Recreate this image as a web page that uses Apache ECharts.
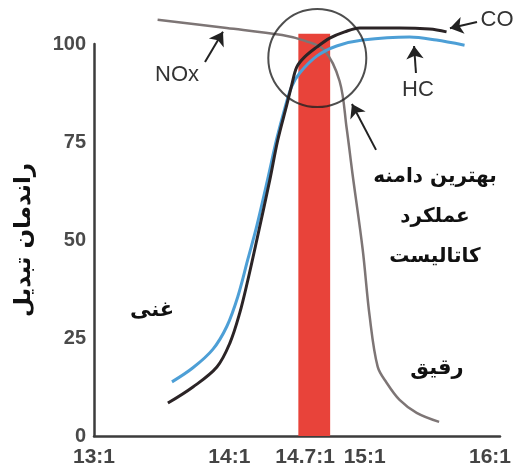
<!DOCTYPE html>
<html>
<head>
<meta charset="utf-8">
<script src="https://cdn.jsdelivr.net/npm/echarts@6/dist/echarts.min.js"></script>
<style>
  html, body { margin: 0; padding: 0; background: #fff; }
  #chart { width: 529px; height: 473px; }
</style>
</head>
<body>
<div id="chart"></div>
<script>
// x ticks (air/fuel ratio) and their labels
const xTicks = [13, 14, 14.7, 15, 16];
const xTickLabels = ['13:1', '14:1', '14.7:1', '15:1', '16:1'];

// conversion efficiency curves [ratio, %]
const noxData = [[13.47, 106.2], [13.98, 104.1], [14.39, 102.3], [14.56, 100.8], [14.7, 98.5],
  [14.815, 90.5], [14.867, 78.5], [14.91, 66.9], [14.985, 47.7], [15.037, 30.5], [15.096, 17.7],
  [15.162, 13.6], [15.258, 9.2], [15.384, 5.9], [15.55, 3.6]];
const coData = [[13.546, 8.4], [13.731, 12.5], [13.908, 17.6], [14.004, 23.7], [14.077, 31.4],
  [14.137, 39.8], [14.203, 50.0], [14.299, 65.3], [14.358, 75.5], [14.424, 84.4], [14.461, 89.5],
  [14.498, 94.1], [14.557, 96.7], [14.646, 99.2], [14.742, 101.5], [14.852, 103.1], [14.963, 104.1],
  [15.258, 104.1], [15.48, 103.8], [15.605, 103.1]];
const hcData = [[13.576, 13.8], [13.731, 17.4], [13.878, 22.1], [13.982, 28.0], [14.063, 35.6],
  [14.137, 45.1], [14.203, 53.6], [14.284, 65.6], [14.351, 75.9], [14.41, 83.6], [14.461, 89.2],
  [14.52, 92.6], [14.646, 96.9], [14.793, 99.5], [14.985, 101.0], [15.332, 101.8], [15.531, 101.0],
  [15.738, 99.7]];

// best catalyst window
const bestRange = [14.51, 14.745];
const bestTop = 102.6;
const circleCenter = [14.65, 96.4];

// arrows [from, to]
const arrows = [
  [[15.83, 105.6], [15.63, 104.0]],
  [[13.82, 95.4], [13.953, 103.1]],
  [[15.379, 92.6], [15.365, 99.5]],
  [[15.084, 73.0], [14.906, 84.7]]
];

const latin = 'Liberation Sans, Arial, sans-serif';
const farsi = 'DejaVu Sans, Noto Sans, sans-serif';

var chart = echarts.init(document.getElementById('chart'));

var option = {
  animation: false,
  backgroundColor: '#fff',
  grid: { left: 94, right: 29, top: 44, bottom: 37 },
  xAxis: {
    type: 'value',
    min: 13,
    max: 16,
    splitLine: { show: false },
    axisTick: { show: false },
    axisLine: { lineStyle: { color: '#3c3c3c', width: 2.5 } },
    axisLabel: {
      customValues: xTicks,
      margin: 11,
      color: '#444',
      fontSize: 21,
      fontWeight: 'bold',
      fontFamily: latin,
      formatter: function (v) {
        var i = xTicks.indexOf(v);
        var t = i >= 0 ? xTickLabels[i] : '';
        if (v === 14.7) return '{a|' + t + '}';
        if (v === 16) return '{b|' + t + '}';
        return t;
      },
      rich: {
        a: { padding: [0, 38, 0, 0], fontSize: 21, fontWeight: 'bold', fontFamily: latin, color: '#444' },
        b: { padding: [0, 20, 0, 0], fontSize: 21, fontWeight: 'bold', fontFamily: latin, color: '#444' }
      }
    }
  },
  yAxis: {
    type: 'value',
    min: 0,
    max: 100,
    interval: 25,
    name: 'راندمان تبدیل',
    nameLocation: 'middle',
    nameGap: 58,
    nameTextStyle: { fontFamily: farsi, fontWeight: 'bold', fontSize: 23, color: '#111' },
    splitLine: { show: false },
    axisTick: { show: false },
    axisLine: { show: true, lineStyle: { color: '#3c3c3c', width: 2.5 } },
    axisLabel: { margin: 8, color: '#4a4a4a', fontSize: 20, fontWeight: 'bold', fontFamily: latin }
  },
  series: [
    {
      type: 'custom',
      name: 'best',
      clip: false,
      z: 1,
      data: [[bestRange[0], 0]],
      renderItem: function (params, api) {
        var p0 = api.coord([bestRange[0], 0]);
        var p1 = api.coord([bestRange[1], bestTop]);
        return {
          type: 'rect',
          shape: { x: p0[0], y: p1[1], width: p1[0] - p0[0], height: p0[1] - p1[1] },
          style: { fill: '#e8433a' }
        };
      }
    },
    {
      type: 'line', name: 'NOx', data: noxData, smooth: 0.35, showSymbol: false, clip: false, z: 3,
      lineStyle: { color: '#7d7575', width: 2.5 }
    },
    {
      type: 'line', name: 'HC', data: hcData, smooth: 0.35, showSymbol: false, clip: false, z: 4,
      lineStyle: { color: '#4d9fd6', width: 3 }
    },
    {
      type: 'line', name: 'CO', data: coData, smooth: 0.35, showSymbol: false, clip: false, z: 5,
      lineStyle: { color: '#2b2426', width: 3 }
    },
    {
      type: 'lines', name: 'arrows', coordinateSystem: 'cartesian2d', clip: false, z: 7, silent: true,
      symbol: ['none', 'arrow'],
      symbolSize: [9, 13],
      lineStyle: { color: '#222', width: 2, opacity: 1 },
      data: arrows.map(function (a) { return { coords: a }; })
    },
    {
      type: 'scatter', name: 'circle', data: [circleCenter], symbol: 'circle', symbolSize: 98,
      clip: false, z: 6, silent: true,
      itemStyle: { color: 'rgba(0,0,0,0)', borderColor: '#222', borderWidth: 2 }
    }
  ],
  graphic: [
    { type: 'text', x: 497, y: 20, style: { text: 'CO', fontFamily: latin, fontSize: 22, fill: '#333', align: 'center', verticalAlign: 'middle' } },
    { type: 'text', x: 177, y: 75, style: { text: 'NOx', fontFamily: latin, fontSize: 22, fill: '#333', align: 'center', verticalAlign: 'middle' } },
    { type: 'text', x: 418, y: 90, style: { text: 'HC', fontFamily: latin, fontSize: 22, fill: '#333', align: 'center', verticalAlign: 'middle' } },
    { type: 'text', x: 435, y: 217, style: { text: 'بهترین دامنه\nعملکرد\nکاتالیست', fontFamily: farsi, fontWeight: 'bold', fontSize: 20, lineHeight: 40, fill: '#111', align: 'center', verticalAlign: 'middle' } },
    { type: 'text', x: 152, y: 311, style: { text: 'غنی', fontFamily: farsi, fontWeight: 'bold', fontSize: 21, fill: '#111', align: 'center', verticalAlign: 'middle' } },
    { type: 'text', x: 437, y: 369, style: { text: 'رقیق', fontFamily: farsi, fontWeight: 'bold', fontSize: 21, fill: '#111', align: 'center', verticalAlign: 'middle' } }
  ]
};

chart.setOption(option);
</script>
</body>
</html>
